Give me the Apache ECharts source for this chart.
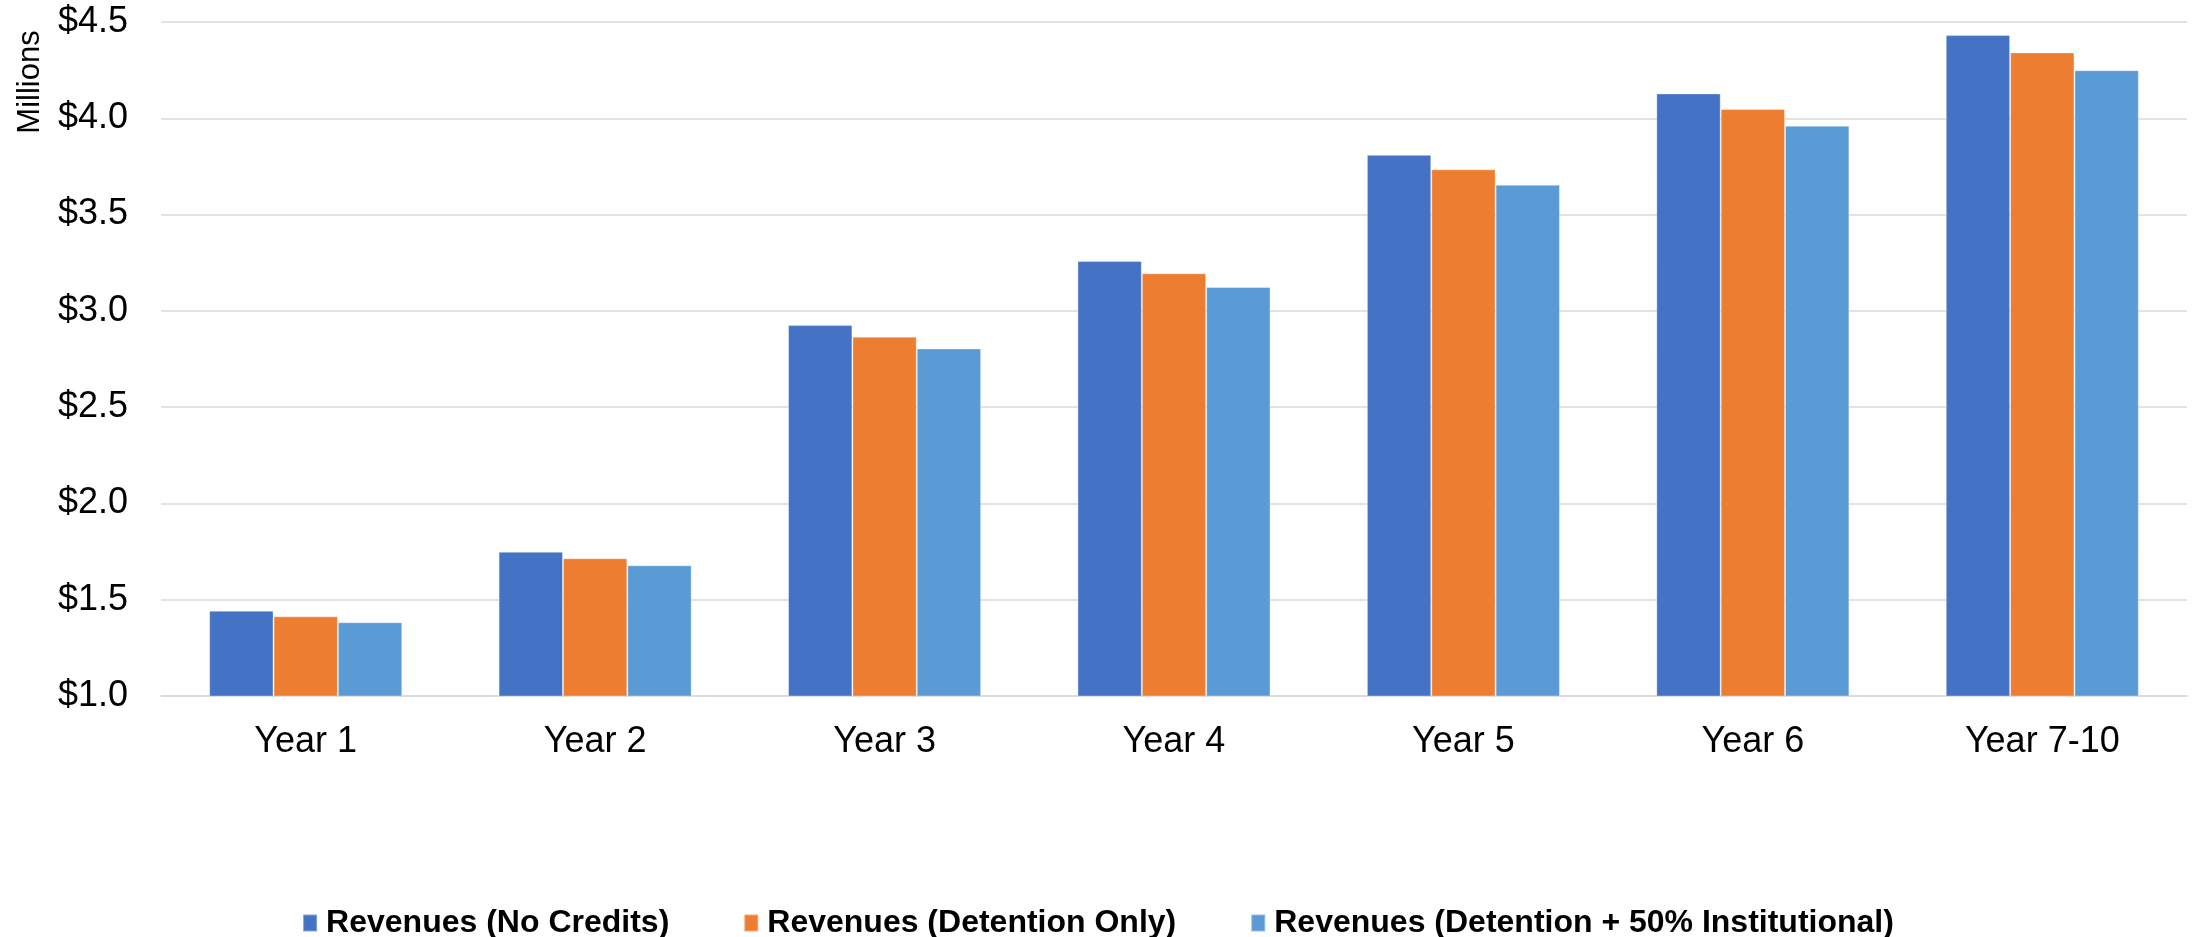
<!DOCTYPE html>
<html>
<head>
<meta charset="utf-8">
<title>Revenues by Year</title>
<script src="https://cdn.jsdelivr.net/npm/echarts@6/dist/echarts.min.js"></script>
<style>
  html, body { margin: 0; padding: 0; background: #ffffff; }
  #chart { width: 2196px; height: 937px; }
</style>
</head>
<body>
<div id="chart"></div>
<script>
// Category labels along the x axis
const categories = ['Year 1', 'Year 2', 'Year 3', 'Year 4', 'Year 5', 'Year 6', 'Year 7-10'];

// Revenue projections, in millions of dollars
const revenuesNoCredits = [1.443, 1.749, 2.926, 3.259, 3.810, 4.129, 4.432];
const revenuesDetentionOnly = [1.414, 1.715, 2.866, 3.195, 3.735, 4.048, 4.342];
const revenuesDetentionInstitutional = [1.383, 1.679, 2.805, 3.124, 3.655, 3.961, 4.250];

// Series names shown in the legend
const seriesNames = [
  'Revenues (No Credits)',
  'Revenues (Detention Only)',
  'Revenues (Detention + 50% Institutional)'
];

// Value axis range and step
const yMin = 1.0;
const yMax = 4.5;
const yStep = 0.5;

const FONT = '"Liberation Sans", Arial, sans-serif';
const colors = ['#4472C4', '#ED7D31', '#5B9BD5'];

const chart = echarts.init(document.getElementById('chart'), null, { renderer: 'canvas' });

function barSeries(name, data, color) {
  return {
    name: name,
    type: 'bar',
    data: data,
    barGap: '0%',
    barCategoryGap: '33.3%',
    itemStyle: {
      color: color,
      borderColor: 'rgba(255,255,255,0.35)',
      borderWidth: 1
    },
    emphasis: { disabled: true }
  };
}

chart.setOption({
  animation: false,
  backgroundColor: '#ffffff',
  color: colors,
  textStyle: { fontFamily: FONT },
  grid: {
    left: 161,
    right: 9,
    top: 22,
    bottom: 241,
    containLabel: false
  },
  legend: {
    data: seriesNames,
    top: 902,
    left: 'center',
    itemWidth: 14,
    itemHeight: 17,
    itemGap: 74,
    icon: 'rect',
    selectedMode: false,
    textStyle: {
      fontFamily: FONT,
      fontSize: 32,
      fontWeight: 'bold',
      color: '#000000',
      padding: [0, 0, 0, 4]
    }
  },
  xAxis: {
    type: 'category',
    data: categories,
    axisLine: { show: true, lineStyle: { color: '#d9d9d9', width: 1.5 } },
    axisTick: { show: false },
    axisLabel: {
      fontFamily: FONT,
      fontSize: 36,
      color: '#000000',
      margin: 28
    },
    splitLine: { show: false }
  },
  yAxis: {
    type: 'value',
    min: yMin,
    max: yMax,
    interval: yStep,
    axisLine: { show: false },
    axisTick: { show: false },
    axisLabel: {
      fontFamily: FONT,
      fontSize: 36,
      color: '#000000',
      margin: 33,
      formatter: function (v) { return '$' + v.toFixed(1); }
    },
    splitLine: { show: true, lineStyle: { color: '#d9d9d9', width: 1.5 } }
  },
  graphic: [{
    type: 'text',
    x: 30,
    y: 82,
    rotation: Math.PI / 2,
    style: {
      text: 'Millions',
      fontFamily: FONT,
      fontSize: 31,
      fill: '#000000',
      align: 'center',
      verticalAlign: 'middle'
    }
  }],
  series: [
    barSeries(seriesNames[0], revenuesNoCredits, colors[0]),
    barSeries(seriesNames[1], revenuesDetentionOnly, colors[1]),
    barSeries(seriesNames[2], revenuesDetentionInstitutional, colors[2])
  ]
});
</script>
</body>
</html>
